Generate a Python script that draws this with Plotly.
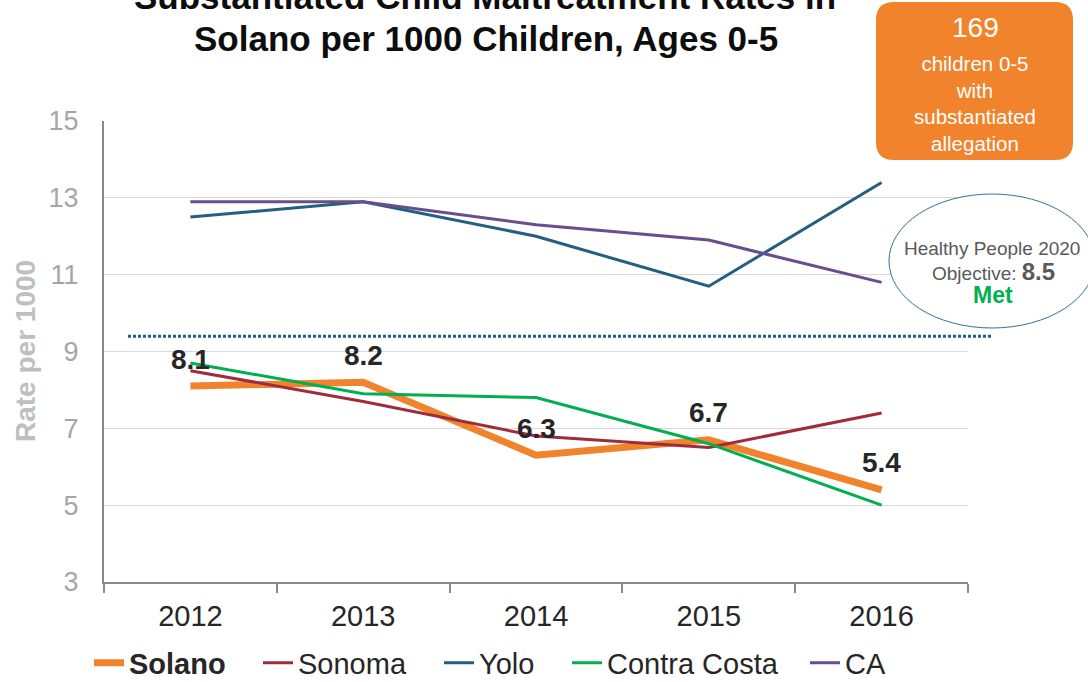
import plotly.graph_objects as go

# ---------------- data ----------------
years = ["2012", "2013", "2014", "2015", "2016"]
series_names = ["Solano", "Sonoma", "Yolo", "Contra Costa", "CA"]
solano = [8.1, 8.2, 6.3, 6.7, 5.4]
sonoma = [8.5, 7.7, 6.8, 6.5, 7.4]
yolo = [12.5, 12.9, 12.0, 10.7, 13.4]
contra_costa = [8.7, 7.9, 7.8, 6.6, 5.0]
ca = [12.9, 12.9, 12.3, 11.9, 10.8]
y_ticks = [3, 5, 7, 9, 11, 13, 15]
objective_line = 9.4
children_count = 169
objective_value = "8.5"

series_values = [solano, sonoma, yolo, contra_costa, ca]
colors = ["#F0832B", "#A02B3B", "#225F80", "#00B050", "#684E8D"]
widths = [7, 3, 3, 3, 3]

# ---------------- geometry helpers ----------------
W, H = 1088, 682
L, R, T, B = 104, 968, 121, 582


def px(x):
    return (x - L) / (R - L)


def py(y):
    return 1 - (y - T) / (B - T)


FONT = "Liberation Sans, Arial, sans-serif"

fig = go.Figure()
legend_ids = ["legend", "legend2", "legend3", "legend4", "legend5"]
for i, (name, vals) in enumerate(zip(series_names, series_values)):
    label = f"<b>{name}</b>" if i == 0 else name
    fig.add_trace(go.Scatter(
        x=years, y=vals, mode="lines", name=label,
        line=dict(color=colors[i], width=widths[i]),
        legend=legend_ids[i], hoverinfo="x+y+name",
    ))

# data labels for Solano (category index positions)
for idx, v in enumerate(solano):
    fig.add_annotation(x=idx, y=v, xref="x", yref="y", text=f"<b>{v}</b>",
                       showarrow=False, xanchor="center", yanchor="middle",
                       yshift=27,
                       font=dict(family=FONT, size=28, color="#262626"))

# objective dotted line
fig.add_shape(type="line", xref="paper", yref="y",
              x0=px(128), x1=px(992), y0=objective_line, y1=objective_line,
              line=dict(color="#225F80", width=3, dash="3px,2px"), layer="above")

# orange rounded box
bx0, bx1, by0, by1, r = 876, 1073, 2, 160, 18
path = (f"M{px(bx0 + r)},{py(by0)} L{px(bx1 - r)},{py(by0)} "
        f"Q{px(bx1)},{py(by0)} {px(bx1)},{py(by0 + r)} "
        f"L{px(bx1)},{py(by1 - r)} "
        f"Q{px(bx1)},{py(by1)} {px(bx1 - r)},{py(by1)} "
        f"L{px(bx0 + r)},{py(by1)} "
        f"Q{px(bx0)},{py(by1)} {px(bx0)},{py(by1 - r)} "
        f"L{px(bx0)},{py(by0 + r)} "
        f"Q{px(bx0)},{py(by0)} {px(bx0 + r)},{py(by0)} Z")
fig.add_shape(type="path", xref="paper", yref="paper", path=path,
              fillcolor="#F0832B", line=dict(width=0), layer="above")
fig.add_annotation(xref="paper", yref="paper", x=px(975), y=py(27),
                   text=str(children_count), showarrow=False,
                   xanchor="center", yanchor="middle",
                   font=dict(family=FONT, size=28, color="white"))
fig.add_annotation(xref="paper", yref="paper", x=px(975), y=py(103),
                   text="children 0-5<br>with<br>substantiated<br>allegation",
                   showarrow=False, xanchor="center", yanchor="middle",
                   font=dict(family=FONT, size=20.5, color="white"))

# ellipse
fig.add_shape(type="circle", xref="paper", yref="paper",
              x0=px(889), x1=px(1095), y0=py(328), y1=py(194),
              fillcolor="white", line=dict(color="#3A6F92", width=1), layer="above")
fig.add_annotation(xref="paper", yref="paper", x=px(992), y=py(248),
                   text="Healthy People 2020", showarrow=False,
                   xanchor="center", yanchor="middle",
                   font=dict(family=FONT, size=19, color="#595959"))
fig.add_annotation(xref="paper", yref="paper", x=px(993), y=py(271),
                   text=f"Objective: <b><span style='font-size:24px'>{objective_value}</span></b>",
                   showarrow=False, xanchor="center", yanchor="middle",
                   font=dict(family=FONT, size=19, color="#595959"))
fig.add_annotation(xref="paper", yref="paper", x=px(993), y=py(295),
                   text="<b>Met</b>", showarrow=False,
                   xanchor="center", yanchor="middle",
                   font=dict(family=FONT, size=23, color="#00B050"))

# title (two lines, first partly cut off)
fig.add_annotation(xref="paper", yref="paper", x=px(485), y=py(-3),
                   text="<b>Substantiated Child Maltreatment Rates in</b>",
                   showarrow=False, xanchor="center", yanchor="middle",
                   font=dict(family=FONT, size=35, color="#0D0D0D"))
fig.add_annotation(xref="paper", yref="paper", x=px(486), y=py(38),
                   text="<b>Solano per 1000 Children, Ages 0-5</b>",
                   showarrow=False, xanchor="center", yanchor="middle",
                   font=dict(family=FONT, size=35, color="#0D0D0D"))

# y axis title
fig.add_annotation(xref="paper", yref="paper", x=px(25), y=py(351),
                   text="<b>Rate per 1000</b>", textangle=-90, showarrow=False,
                   xanchor="center", yanchor="middle",
                   font=dict(family=FONT, size=28, color="#BFBFBF"))

# legends positioned individually (container coords so they don't push margins)
legend_text_x = [129, 298, 479, 607, 845]
layout_legends = {}
for lid, tx in zip(legend_ids, legend_text_x):
    layout_legends[lid] = dict(
        x=(tx - 40) / W, y=1 - 663 / H, xref="container", yref="container",
        xanchor="left", yanchor="middle", orientation="h",
        bgcolor="rgba(0,0,0,0)", borderwidth=0,
        font=dict(family=FONT, size=29, color="#262626"),
        itemclick=False, itemdoubleclick=False,
    )

fig.update_layout(
    width=W, height=H,
    margin=dict(l=L, r=W - R, t=T, b=H - B, pad=0, autoexpand=False),
    paper_bgcolor="white", plot_bgcolor="white",
    showlegend=True,
    font=dict(family=FONT),
    xaxis=dict(type="category", range=[-0.5, 4.5], tickson="boundaries",
               ticks="outside", ticklen=9, tickwidth=2, tickcolor="#898989",
               showline=True, linecolor="#898989", linewidth=2,
               showgrid=False, zeroline=False, ticklabelstandoff=7,
               automargin=False,
               tickfont=dict(family=FONT, size=29, color="#262626")),
    yaxis=dict(range=[3, 15], tickvals=y_ticks, ticks="",
               showline=True, linecolor="#898989", linewidth=2,
               showgrid=True, gridcolor="#D9D9D9", gridwidth=1.3,
               zeroline=False, ticklabelstandoff=18, automargin=False,
               tickfont=dict(family=FONT, size=27, color="#A6A6A6")),
    **layout_legends,
)

fig.write_html("out.html", include_plotlyjs=True, full_html=True,
               config={"displayModeBar": False},
               post_script="document.body.style.margin='0';")
